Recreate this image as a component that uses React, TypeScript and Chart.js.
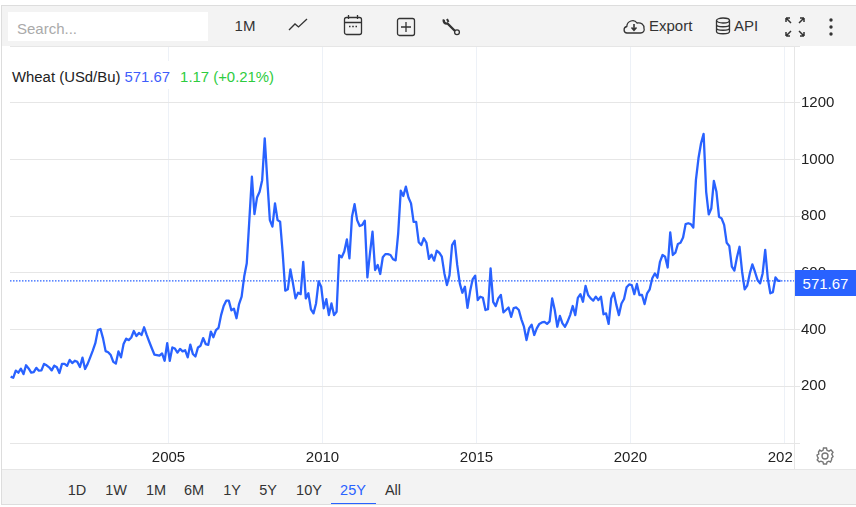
import React, { useEffect, useRef } from "react";
import { Chart, registerables } from "chart.js";

Chart.register(...registerables);

const prices2000 = [
  234, 230, 255, 248, 262, 243, 274, 263, 248, 250,
  265, 255, 256, 279, 274, 267, 256, 273, 267, 247,
  279, 279, 272, 293, 282, 290, 286, 268, 301, 261,
  279, 302, 326, 352, 398, 402, 369, 324, 320, 310,
  286, 280, 323, 302, 349, 368, 363, 372, 395, 377,
  388, 381, 408, 381, 357, 334, 312, 310, 308, 316,
  290, 352, 290, 337, 333, 319, 332, 323, 327, 302,
  347, 314, 305, 337, 343, 370, 349, 346, 393, 373,
  398, 406, 451, 483, 502, 502, 468, 474, 440, 490,
  516, 587, 634,
];
const prices2007 = [
  786, 939, 807, 866, 886, 927, 1074, 927, 786, 763,
  845, 786, 780, 669, 537, 542, 612, 563, 510, 530,
  525, 639, 510, 528, 471, 457, 492, 570, 551, 475,
  507, 451, 492, 451, 463, 662, 655, 675, 718, 651,
  798, 842, 786, 765, 769, 784, 584, 669, 745, 610,
  628, 596, 655, 666, 666, 663, 648, 644, 739, 890,
  871, 904, 866, 845, 780, 780, 708, 698, 722, 706,
  649, 664, 643, 678, 671, 657, 598, 557, 592, 698,
  713, 628, 563, 530, 551, 477, 534, 577, 590, 504,
  516,
];
const prices2015 = [
  512, 469, 472, 616, 498, 483, 510, 522, 461,
  469, 478, 445, 476, 478, 469, 436, 410, 363, 404,
  417, 381, 404, 420, 425, 427, 420, 429, 510, 469,
  410, 448, 422, 410, 428, 451, 483, 451, 512, 525,
  498, 554, 522, 510, 502, 516, 504, 516, 454, 457,
  420, 510, 530, 487, 451, 492, 508, 549, 559, 557,
  525, 561, 522, 522, 490, 528, 542, 581, 598, 583,
  639, 663, 657, 619, 743,
];
const prices2021 = [
  663, 671, 702, 706, 725, 772, 775, 772, 760, 927,
  1004, 1057, 1090, 886, 806, 827, 924, 886, 798, 792,
  769, 706, 695, 622, 608, 655, 692, 604, 542, 555,
  598, 630, 604, 575, 563, 598, 681, 581, 528, 532,
  584, 572, 571.67,
];
const prices = [...prices2000, ...prices2007, ...prices2015, ...prices2021];
const firstYear = 1999.875;
const lastPrice = 571.67;
const yearTicks = [2005, 2010, 2015, 2020, 2025];
const priceTicks = [0, 200, 400, 600, 800, 1000, 1200, 1400];
const xMin = 1999.854;
const xMax = 2025.31;
const rangeButtons = ["1D", "1W", "1M", "6M", "1Y", "5Y", "10Y", "25Y", "All"];
const rangeCentres = [77, 116, 156, 194, 232, 268, 309, 353, 393];

const FONT = '"Liberation Sans", Arial, sans-serif';
const abs = (left: number, top: number, width: number, height: number, extra: React.CSSProperties = {}): React.CSSProperties => ({
  position: "absolute", left, top, width, height, ...extra,
});
const iconStroke = { fill: "none", stroke: "#333", strokeWidth: 1.3 };

export default function App() {
  const ref = useRef<HTMLCanvasElement | null>(null);
  useEffect(() => {
    if (!ref.current) return;
    const chart = new Chart(ref.current, {
      type: "line",
      data: {
        datasets: [
          {
            data: [{ x: xMin, y: lastPrice }, { x: xMax, y: lastPrice }],
            borderColor: "#2962ff",
            borderWidth: 1.3,
            borderDash: [1.5, 1.5],
            pointRadius: 0,
          },
          {
            data: prices.map((p, i) => ({ x: firstYear + i / 12, y: p })),
            borderColor: "#2962ff",
            borderWidth: 2.3,
            borderJoinStyle: "round",
            pointRadius: 0,
            tension: 0,
          },
        ],
      },
      options: {
        responsive: false,
        animation: false,
        devicePixelRatio: 1,
        layout: { padding: { left: 10, right: 0, top: 46, bottom: 38 } },
        plugins: { legend: { display: false }, tooltip: { enabled: false } },
        scales: {
          x: {
            type: "linear",
            min: xMin,
            max: xMax,
            afterBuildTicks: (axis: any) => { axis.ticks = yearTicks.map((value) => ({ value })); },
            afterFit: (axis: any) => { axis.height = 26; },
            grid: { color: "#edf1f7", drawTicks: false },
            border: { color: "#e6e6e6" },
            ticks: {
              autoSkip: false,
              maxRotation: 0,
              padding: 6,
              color: "#222",
              font: { family: FONT, size: 15 },
              callback: (v: any) => String(v),
            },
          },
          y: {
            position: "right",
            min: 0,
            max: 1400,
            afterBuildTicks: (axis: any) => { axis.ticks = priceTicks.map((value) => ({ value })); },
            afterFit: (axis: any) => { axis.width = 62; },
            grid: { color: "#e6e6e6", tickLength: 6 },
            border: { color: "#e6e6e6" },
            ticks: {
              padding: 1,
              color: "#222",
              font: { family: FONT, size: 15 },
              callback: (v: any) => (v === 0 || v === 1400 ? "" : String(v)),
            },
          },
        },
      },
    } as any);
    return () => chart.destroy();
  }, []);

  return (
    <div style={abs(0, 0, 856, 507, { fontFamily: FONT, color: "#333", fontSize: 15, overflow: "hidden", background: "#fff" })}>
      <canvas ref={ref} width={856} height={507} style={abs(0, 0, 856, 507, { display: "block" })} />

      {/* frame */}
      <div style={abs(1, 5, 855, 1, { background: "#ddd" })} />
      <div style={abs(1, 5, 1, 500, { background: "#ddd" })} />
      <div style={abs(1, 504, 855, 1, { background: "#ddd" })} />

      {/* top bar */}
      <div style={abs(2, 6, 854, 40, { background: "#f3f3f3" })} />
      <div style={abs(8, 12, 200, 29, { background: "#fff", color: "#aaa", lineHeight: "34px", paddingLeft: 9, boxSizing: "border-box" })}>Search...</div>
      <div style={abs(225, 15, 40, 22, { textAlign: "center", lineHeight: "22px" })}>1M</div>
      <svg style={abs(288, 17, 20, 16)} viewBox="0 0 20 16"><path d="M1 13 L7 7 L10.5 10 L19 2" {...iconStroke} /></svg>
      <svg style={abs(343, 14, 20, 22)} viewBox="0 0 20 22">
        <rect x="1.5" y="3.5" width="17" height="17" rx="2" {...iconStroke} />
        <path d="M1.5 8.5 H18.5 M5.5 1 V5 M14.5 1 V5" {...iconStroke} />
        <path d="M6 12.5 H7.5 M9.2 12.5 H10.8 M12.5 12.5 H14" {...iconStroke} />
      </svg>
      <svg style={abs(396, 17, 20, 20)} viewBox="0 0 20 20">
        <rect x="1.5" y="1.5" width="17" height="17" rx="2" {...iconStroke} />
        <path d="M10 5 V15 M5 10 H15" {...iconStroke} />
      </svg>
      <svg style={abs(442, 18, 19, 18)} viewBox="0 0 19 18">
        <path d="M2 1.5 C1 4 3 6 5.5 5.5 L13 13" fill="none" stroke="#333" strokeWidth="2.4" />
        <path d="M5 1 L6.5 4" fill="none" stroke="#333" strokeWidth="2" />
        <circle cx="15" cy="14.2" r="2.4" {...iconStroke} />
      </svg>
      <svg style={abs(622, 17, 24, 18)} viewBox="0 0 24 18">
        <path d="M5 16 C1.5 16 0.8 10.5 4.8 9.5 C5 4 12 1.5 15 6 C19 5 22.5 8 22 11.5 C23 14 21 16 18.5 16 Z" {...iconStroke} />
        <path d="M12 7 V13 M9.5 10.5 L12 13.2 L14.5 10.5" fill="none" stroke="#333" strokeWidth="1.6" />
      </svg>
      <div style={abs(649, 15, 48, 22, { lineHeight: "22px" })}>Export</div>
      <svg style={abs(715, 17, 16, 18)} viewBox="0 0 16 18">
        <ellipse cx="8" cy="3.5" rx="6.5" ry="2.5" {...iconStroke} />
        <path d="M1.5 3.5 V14.5 C1.5 17.5 14.5 17.5 14.5 14.5 V3.5 M1.5 7.5 C1.5 10.5 14.5 10.5 14.5 7.5 M1.5 11 C1.5 14 14.5 14 14.5 11" {...iconStroke} />
      </svg>
      <div style={abs(734, 15, 30, 22, { lineHeight: "22px" })}>API</div>
      <svg style={abs(785, 17, 20, 20)} viewBox="0 0 20 20">
        <path d="M1 1 L6 6 M1 1 H5 M1 1 V5 M19 1 L14 6 M19 1 H15 M19 1 V5 M1 19 L6 14 M1 19 H5 M1 19 V15 M19 19 L14 14 M19 19 H15 M19 19 V15" fill="none" stroke="#333" strokeWidth="1.5" />
      </svg>
      <svg style={abs(828, 17, 6, 20)} viewBox="0 0 6 20">
        <circle cx="3" cy="3" r="1.7" fill="#333" /><circle cx="3" cy="10" r="1.7" fill="#333" /><circle cx="3" cy="17" r="1.7" fill="#333" />
      </svg>

      {/* quote header */}
      <div style={abs(11, 61, 266, 28, { background: "#fff", fontSize: 14.9, lineHeight: "32px", paddingLeft: 1, boxSizing: "border-box", whiteSpace: "nowrap", color: "#222" })}>
        Wheat (USd/Bu) <span style={{ color: "#3f5efb" }}>571.67</span>
        <span style={{ color: "#2ecc40", marginLeft: 10 }}>1.17 (+0.21%)</span>
      </div>

      {/* last price badge */}
      <div style={abs(795, 270, 61, 26, { background: "#2962ff", color: "#fff", textAlign: "center", lineHeight: "28px" })}>571.67</div>

      {/* covers the end of the cut x label, holds the settings gear */}
      <div style={abs(793, 444, 63, 25, { background: "#fff" })} />
      <div style={abs(794, 46, 1, 423, { background: "#e6e6e6" })} />
      <svg style={abs(816, 447, 18, 18)} viewBox="0 0 18 18">
        <path d="M7.5 1 H10.5 L11 3.3 L13 4.2 L15 3 L17 5.2 L15.7 7.2 L16.3 8.2 L17 9.7 L15.5 11.2 L15.7 12.5 L14.5 15 L12.8 14.2 L11 15 L10.5 17 H7.5 L7 15 L5 14.2 L3.2 15 L1.2 12.8 L2.3 11 L1.5 9.8 L1 8 L2.8 7 L2.5 5 L3.8 3 L5.2 4.2 L7 3.3 Z" fill="none" stroke="#777" strokeWidth="1.4" />
        <circle cx="9" cy="9" r="3" fill="none" stroke="#777" strokeWidth="1.4" />
      </svg>

      {/* bottom bar */}
      <div style={abs(2, 469, 854, 35, { background: "#f3f3f3", borderTop: "1px solid #e6e6e6", boxSizing: "border-box" })} />
      {rangeButtons.map((label, i) => (
        <div key={label} style={abs(rangeCentres[i] - 25, 479, 50, 22, {
          textAlign: "center", fontSize: 14.5, lineHeight: "22px", color: label === "25Y" ? "#2962ff" : "#333",
        })}>{label}</div>
      ))}
      <div style={abs(331, 503, 45, 1, { background: "#2962ff" })} />
    </div>
  );
}
